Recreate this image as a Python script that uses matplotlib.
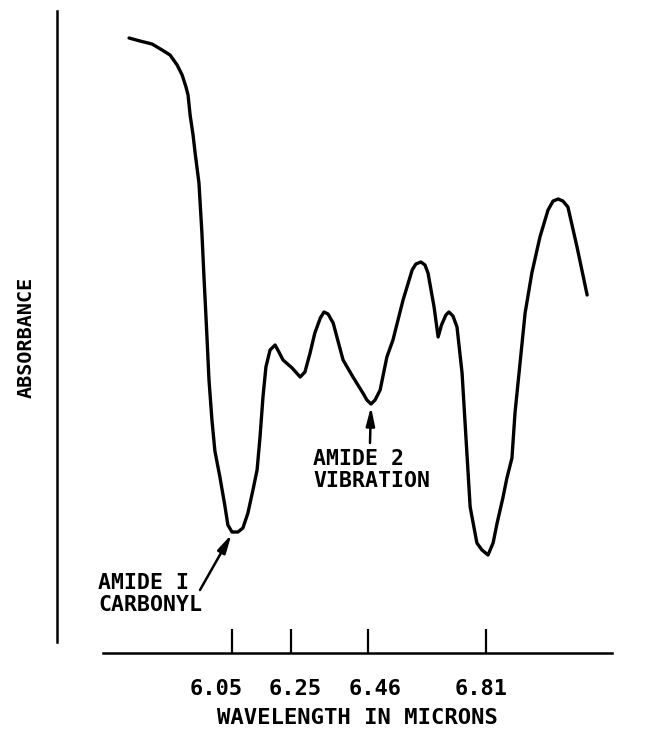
import numpy as np
import matplotlib
matplotlib.use("Agg")
import matplotlib.pyplot as plt
from matplotlib.transforms import ScaledTranslation

# spectrum (wavelength in microns, absorbance in arbitrary units)
wavelength = [5.701, 5.738, 5.779, 5.813, 5.840, 5.864, 5.881, 5.894, 5.901, 5.908,
              5.918, 5.925, 5.938, 5.948, 5.955, 5.964, 5.972, 5.982, 5.992, 6.009,
              6.026, 6.036, 6.050, 6.070, 6.087, 6.104, 6.121, 6.135, 6.145, 6.155,
              6.165, 6.179, 6.196, 6.209, 6.223, 6.253, 6.275, 6.288, 6.302, 6.315,
              6.330, 6.340, 6.351, 6.365, 6.392, 6.419, 6.446, 6.457, 6.469, 6.481,
              6.496, 6.516, 6.534, 6.564, 6.591, 6.602, 6.617, 6.629, 6.638, 6.656,
              6.668, 6.678, 6.691, 6.700, 6.712, 6.724, 6.739, 6.751, 6.763, 6.783,
              6.798, 6.816, 6.831, 6.843, 6.860, 6.872, 6.887, 6.896, 6.911, 6.926,
              6.946, 6.970, 6.994, 7.009, 7.024, 7.038, 7.053, 7.080, 7.110]
absorbance = [6.15, 6.12, 6.09, 6.03, 5.98, 5.88, 5.78, 5.66, 5.58, 5.38,
              5.18, 5.00, 4.70, 4.20, 3.76, 3.23, 2.73, 2.33, 2.02, 1.76,
              1.47, 1.28, 1.21, 1.21, 1.25, 1.40, 1.63, 1.83, 2.16, 2.56,
              2.86, 3.03, 3.08, 3.01, 2.93, 2.85, 2.76, 2.81, 3.00, 3.20,
              3.35, 3.41, 3.39, 3.30, 2.93, 2.76, 2.60, 2.53, 2.49, 2.53,
              2.63, 2.96, 3.13, 3.53, 3.83, 3.89, 3.91, 3.88, 3.80, 3.46,
              3.16, 3.28, 3.38, 3.41, 3.37, 3.26, 2.80, 2.13, 1.46, 1.10,
              1.03, 0.98, 1.10, 1.30, 1.55, 1.75, 1.95, 2.40, 2.90, 3.40,
              3.80, 4.16, 4.43, 4.52, 4.54, 4.52, 4.46, 4.06, 3.58]

tick_values = [6.05, 6.25, 6.46, 6.81]
tick_labels = ["6.05", "6.25", "6.46", "6.81"]

amide1 = (6.053, 1.21)
amide2 = (6.469, 2.49)

# the printed wavelength axis is not linear: piecewise map wavelength -> drawing position
SCALE_WL = [5.4, 6.05, 6.25, 6.46, 6.81, 7.3]
SCALE_POS = [40.25, 232, 291, 368, 486, 651.2]


def fwd(x):
    return np.interp(x, SCALE_WL, SCALE_POS)


def inv(p):
    return np.interp(p, SCALE_POS, SCALE_WL)


W, H = 645, 735
fig = plt.figure(figsize=(W / 100, H / 100), dpi=100)
ax = fig.add_axes([57 / W, 82 / H, 555 / W, 642 / H])
ax.set_xscale("function", functions=(fwd, inv))
ax.set_xlim(inv(57), inv(612))
ax.set_ylim(0, 6.42)

ax.plot(wavelength, absorbance, color="black", lw=2.4,
        solid_capstyle="round", solid_joinstyle="round")

for side in ["top", "right"]:
    ax.spines[side].set_visible(False)
ax.spines["left"].set_linewidth(1.8)
ax.spines["bottom"].set_linewidth(1.8)
ax.spines["left"].set_bounds(0.11, 6.42)
ax.spines["bottom"].set_bounds(inv(103), inv(612))

mono = "DejaVu Sans Mono"
ax.set_yticks([])
ax.set_xticks(tick_values)
ax.set_xticklabels(tick_labels, family=mono, fontsize=15.8, fontweight="bold")
ax.tick_params(axis="x", direction="in", length=17, width=1.6, pad=19)
ax.xaxis.set_minor_locator(plt.NullLocator())

shifts = [-16, 4, 7, -5]
for lab, dx in zip(ax.get_xticklabels(), shifts):
    lab.set_transform(lab.get_transform() + ScaledTranslation(dx / 100, 0, fig.dpi_scale_trans))

ax.set_xlabel("WAVELENGTH IN MICRONS", family=mono, fontsize=16, fontweight="bold")
ax.xaxis.set_label_coords((357 - 57) / 555, (653 - 718) / 642)
ax.xaxis.label.set_va("center")

ax.set_ylabel("ABSORBANCE", family=mono, fontsize=14.5, fontweight="bold")
ax.yaxis.set_label_coords((26 - 57) / 555, (653 - 337) / 642)
ax.yaxis.label.set_va("center")

arrow = dict(arrowstyle="-|>,head_length=0.55,head_width=0.13", color="black",
             lw=1.8, mutation_scale=20, shrinkA=0, shrinkB=2)
ax.annotate("", xy=amide1, xycoords="data", xytext=(200, H - 590),
            textcoords="figure pixels", arrowprops=arrow)
ax.annotate("", xy=amide2, xycoords="data", xytext=(370, H - 443),
            textcoords="figure pixels", arrowprops=arrow)

fig.text(98 / W, (H - 573) / H, "AMIDE I\nCARBONYL", family=mono, fontsize=15.5,
         fontweight="bold", ha="left", va="top", linespacing=1.15)
fig.text(313 / W, (H - 449) / H, "AMIDE 2\nVIBRATION", family=mono, fontsize=15.5,
         fontweight="bold", ha="left", va="top", linespacing=1.15)

fig.savefig("out.png", dpi=100)
